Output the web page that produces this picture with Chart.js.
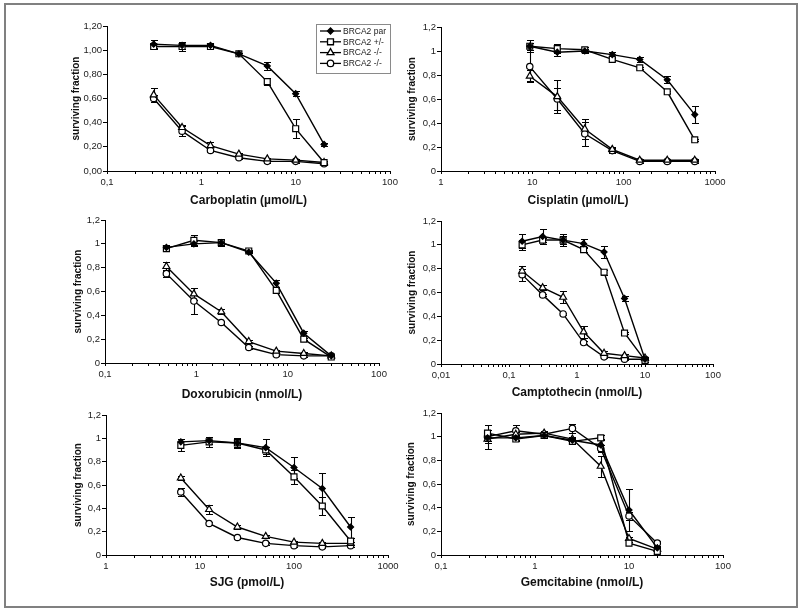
<!DOCTYPE html>
<html>
<head>
<meta charset="utf-8">
<title>BRCA2 surviving fraction</title>
<script src="https://cdn.jsdelivr.net/npm/chart.js@4.4.1/dist/chart.umd.min.js"></script>
<style>
  body { margin: 0; background: #fff; }
  #page { position: relative; width: 800px; height: 610px; background: #fff; overflow: hidden; }
  #frame { position: absolute; left: 4px; top: 3px; width: 794px; height: 605px; border: 2px solid #808080; box-sizing: border-box; }
  canvas { position: absolute; }
</style>
</head>
<body>
<div id="page">
  <div id="frame"></div>
</div>
<script>
// series names (legend)
const seriesLabels = ['BRCA2 par', 'BRCA2 +/-', 'BRCA2 -/-', 'BRCA2 -/-'];

// Carboplatin (µmol/L)
const carboConc = [0.3125, 0.625, 1.25, 2.5, 5, 10, 20];
const carboPar = [1.05, 1.04, 1.04, 0.97, 0.87, 0.64, 0.22];
const carboParErr = [0.03, 0.03, 0.01, 0.01, 0.03, 0.02, 0.01];
const carboHet = [1.03, 1.03, 1.03, 0.97, 0.74, 0.35, 0.07];
const carboHetErr = [0.02, 0.04, 0.02, 0.01, 0.03, 0.08, 0.01];
const carboKoA = [0.63, 0.36, 0.21, 0.14, 0.10, 0.09, 0.07];
const carboKoAErr = [0.06, 0.02, 0.03, 0.01, 0.01, 0.01, 0.01];
const carboKoB = [0.60, 0.33, 0.17, 0.11, 0.08, 0.08, 0.06];
const carboKoBErr = [0.03, 0.04, 0.01, 0.01, 0.01, 0.01, 0.01];

// Cisplatin (µmol/L)
const cisConc = [9.375, 18.75, 37.5, 75, 150, 300, 600];
const cisPar = [1.04, 0.99, 1.00, 0.97, 0.93, 0.76, 0.47];
const cisParErr = [0.05, 0.03, 0.02, 0.02, 0.02, 0.03, 0.07];
const cisHet = [1.04, 1.02, 1.01, 0.93, 0.86, 0.66, 0.26];
const cisHetErr = [0.03, 0.04, 0.02, 0.01, 0.01, 0.01, 0.01];
const cisKoA = [0.79, 0.62, 0.35, 0.18, 0.09, 0.09, 0.09];
const cisKoAErr = [0.05, 0.14, 0.08, 0.02, 0.01, 0.01, 0.01];
const cisKoB = [0.87, 0.60, 0.31, 0.17, 0.08, 0.08, 0.08];
const cisKoBErr = [0.12, 0.09, 0.10, 0.02, 0.01, 0.01, 0.01];

// Doxorubicin (nmol/L)
const doxoConc = [0.47, 0.94, 1.875, 3.75, 7.5, 15, 30];
const doxoPar = [0.97, 1.00, 1.01, 0.93, 0.67, 0.25, 0.06];
const doxoParErr = [0.02, 0.02, 0.02, 0.01, 0.03, 0.02, 0.01];
const doxoHet = [0.96, 1.03, 1.01, 0.94, 0.61, 0.20, 0.05];
const doxoHetErr = [0.02, 0.04, 0.03, 0.01, 0.02, 0.01, 0.01];
const doxoKoA = [0.81, 0.58, 0.43, 0.18, 0.10, 0.08, 0.06];
const doxoKoAErr = [0.04, 0.05, 0.02, 0.01, 0.01, 0.01, 0.01];
const doxoKoB = [0.75, 0.52, 0.34, 0.13, 0.07, 0.06, 0.06];
const doxoKoBErr = [0.03, 0.11, 0.01, 0.01, 0.01, 0.01, 0.01];

// Camptothecin (nmol/L)
const camptoConc = [0.156, 0.3125, 0.625, 1.25, 2.5, 5, 10];
const camptoPar = [1.03, 1.07, 1.04, 1.01, 0.94, 0.55, 0.04];
const camptoParErr = [0.06, 0.06, 0.05, 0.04, 0.05, 0.02, 0.01];
const camptoHet = [1.00, 1.04, 1.04, 0.96, 0.77, 0.26, 0.03];
const camptoHetErr = [0.04, 0.02, 0.03, 0.02, 0.02, 0.01, 0.01];
const camptoKoA = [0.78, 0.64, 0.56, 0.27, 0.09, 0.07, 0.05];
const camptoKoAErr = [0.04, 0.02, 0.05, 0.05, 0.02, 0.01, 0.01];
const camptoKoB = [0.75, 0.58, 0.42, 0.18, 0.06, 0.04, 0.04];
const camptoKoBErr = [0.05, 0.01, 0.01, 0.01, 0.01, 0.01, 0.01];

// SJG (pmol/L)
const sjgConc = [6.25, 12.5, 25, 50, 100, 200, 400];
const sjgPar = [0.97, 0.98, 0.96, 0.92, 0.75, 0.57, 0.24];
const sjgParErr = [0.02, 0.03, 0.03, 0.07, 0.09, 0.13, 0.09];
const sjgHet = [0.94, 0.97, 0.96, 0.90, 0.67, 0.42, 0.12];
const sjgHetErr = [0.05, 0.04, 0.04, 0.03, 0.06, 0.08, 0.03];
const sjgKoA = [0.66, 0.39, 0.24, 0.16, 0.11, 0.10, 0.10];
const sjgKoAErr = [0.02, 0.04, 0.02, 0.01, 0.01, 0.01, 0.01];
const sjgKoB = [0.54, 0.27, 0.15, 0.10, 0.08, 0.07, 0.08];
const sjgKoBErr = [0.03, 0.01, 0.01, 0.01, 0.01, 0.01, 0.01];

// Gemcitabine (nmol/L)
const gemConc = [0.3125, 0.625, 1.25, 2.5, 5, 10, 20];
const gemPar = [0.99, 0.99, 1.01, 0.97, 0.93, 0.38, 0.06];
const gemParErr = [0.03, 0.02, 0.02, 0.02, 0.05, 0.18, 0.01];
const gemHet = [1.03, 0.98, 1.01, 0.96, 0.99, 0.10, 0.03];
const gemHetErr = [0.03, 0.02, 0.02, 0.02, 0.02, 0.01, 0.01];
const gemKoA = [0.98, 1.02, 1.03, 0.98, 0.75, 0.14, 0.05];
const gemKoAErr = [0.03, 0.02, 0.02, 0.02, 0.09, 0.01, 0.01];
const gemKoB = [1.00, 1.05, 1.02, 1.07, 0.90, 0.33, 0.10];
const gemKoBErr = [0.10, 0.05, 0.02, 0.04, 0.03, 0.03, 0.02];

const FONT = "'Liberation Sans', Arial, Helvetica, sans-serif";

// marker look per series
const markerStyles = [
    { pointStyle: 'rectRot', radius: 3, fill: '#000' },
    { pointStyle: 'rect', radius: 4.2, fill: '#fff' },
    { pointStyle: 'triangle', radius: 4, fill: '#fff' },
    { pointStyle: 'circle', radius: 3.2, fill: '#fff' }
];

// panel placement: plot area edges in page pixels, axis title offsets
const panels = [
    { title: 'Carboplatin (µmol/L)', conc: carboConc, xMin: 0.1, xMax: 100,
      series: [[carboPar, carboParErr], [carboHet, carboHetErr], [carboKoA, carboKoAErr], [carboKoB, carboKoBErr]],
      L: 107, R: 390, T: 26, B: 171, yTitle: 31, xTitle: 30, decimals: 2, legend: true },
    { title: 'Cisplatin (µmol/L)', conc: cisConc, xMin: 1, xMax: 1000,
      series: [[cisPar, cisParErr], [cisHet, cisHetErr], [cisKoA, cisKoAErr], [cisKoB, cisKoBErr]],
      L: 441, R: 715, T: 27, B: 171, yTitle: 29, xTitle: 30, decimals: 0 },
    { title: 'Doxorubicin (nmol/L)', conc: doxoConc, xMin: 0.1, xMax: 100,
      series: [[doxoPar, doxoParErr], [doxoHet, doxoHetErr], [doxoKoA, doxoKoAErr], [doxoKoB, doxoKoBErr]],
      L: 105, R: 379, T: 220, B: 363, yTitle: 27, xTitle: 32, decimals: 0 },
    { title: 'Camptothecin (nmol/L)', conc: camptoConc, xMin: 0.01, xMax: 100,
      series: [[camptoPar, camptoParErr], [camptoHet, camptoHetErr], [camptoKoA, camptoKoAErr], [camptoKoB, camptoKoBErr]],
      L: 441, R: 713, T: 221, B: 364, yTitle: 29, xTitle: 29, decimals: 0 },
    { title: 'SJG (pmol/L)', conc: sjgConc, xMin: 1, xMax: 1000,
      series: [[sjgPar, sjgParErr], [sjgHet, sjgHetErr], [sjgKoA, sjgKoAErr], [sjgKoB, sjgKoBErr]],
      L: 106, R: 388, T: 415, B: 555, yTitle: 28, xTitle: 28, decimals: 0 },
    { title: 'Gemcitabine (nmol/L)', conc: gemConc, xMin: 0.1, xMax: 100,
      series: [[gemPar, gemParErr], [gemHet, gemHetErr], [gemKoA, gemKoAErr], [gemKoB, gemKoBErr]],
      L: 441, R: 723, T: 413, B: 555, yTitle: 30, xTitle: 28, decimals: 0 }
];

const Y_W = 50, X_H = 40, PAD_T = 8, PAD_R = 14;

// vertical error bars, drawn under the markers
const errorBars = {
    id: 'errorBars',
    beforeDatasetsDraw(chart) {
        const { ctx } = chart;
        const xs = chart.scales.x, ys = chart.scales.y;
        ctx.save();
        ctx.strokeStyle = '#000';
        ctx.lineWidth = 1.1;
        chart.data.datasets.forEach(ds => {
            ds.data.forEach((p, i) => {
                const e = ds.errors[i];
                if (!e) return;
                const x = Math.round(xs.getPixelForValue(p.x)) + 0.5;
                const y1 = Math.round(ys.getPixelForValue(p.y + e)) + 0.5;
                const y2 = Math.round(ys.getPixelForValue(p.y - e)) + 0.5;
                ctx.beginPath();
                ctx.moveTo(x, y1); ctx.lineTo(x, y2);
                ctx.moveTo(x - 3.5, y1); ctx.lineTo(x + 3.5, y1);
                ctx.moveTo(x - 3.5, y2); ctx.lineTo(x + 3.5, y2);
                ctx.stroke();
            });
        });
        ctx.restore();
    }
};

// boxed legend in the top right corner, line through marker like the original
const boxLegend = {
    id: 'boxLegend',
    afterDraw(chart, args, opts) {
        if (!opts.show) return;
        const { ctx, chartArea } = chart;
        const w = 74, h = 49;
        const left = Math.round(chartArea.right - w), top = Math.round(chartArea.top - 2);
        ctx.save();
        ctx.fillStyle = '#fff';
        ctx.fillRect(left, top, w, h);
        ctx.strokeStyle = '#8a8a8a';
        ctx.lineWidth = 1;
        ctx.strokeRect(left + 0.5, top + 0.5, w, h);
        chart.data.datasets.forEach((ds, i) => {
            const y = top + 7 + i * 10.8;
            ctx.strokeStyle = '#000';
            ctx.lineWidth = 1.3;
            ctx.beginPath();
            ctx.moveTo(left + 4, y);
            ctx.lineTo(left + 25, y);
            ctx.stroke();
            ctx.fillStyle = ds.pointBackgroundColor;
            Chart.helpers.drawPoint(ctx, {
                pointStyle: ds.pointStyle, radius: ds.pointRadius, borderWidth: 1.1, rotation: 0
            }, left + 14.5, y);
            ctx.fillStyle = '#222';
            ctx.font = '8.5px ' + FONT;
            ctx.textBaseline = 'middle';
            ctx.textAlign = 'left';
            ctx.fillText(ds.label, left + 27, y + 0.5);
        });
        ctx.restore();
    }
};

function isDecade(v) {
    const lg = Math.log10(v);
    return Math.abs(lg - Math.round(lg)) < 1e-6;
}

function buildPanel(p) {
    const canvas = document.createElement('canvas');
    const left = p.L - Y_W, top = p.T - PAD_T;
    const width = p.R + PAD_R - left, height = p.B + X_H - top;
    canvas.width = width;
    canvas.height = height;
    canvas.style.left = left + 'px';
    canvas.style.top = top + 'px';
    canvas.style.width = width + 'px';
    canvas.style.height = height + 'px';
    document.getElementById('page').appendChild(canvas);

    const datasets = p.series.map(([vals, errs], i) => ({
        label: seriesLabels[i],
        data: p.conc.map((c, j) => ({ x: c, y: vals[j] })),
        errors: errs,
        borderColor: '#000',
        borderWidth: 1.4,
        tension: 0,
        fill: false,
        pointStyle: markerStyles[i].pointStyle,
        pointRadius: markerStyles[i].radius,
        pointBackgroundColor: markerStyles[i].fill,
        pointBorderColor: '#000',
        pointBorderWidth: 1.2
    }));

    new Chart(canvas, {
        type: 'line',
        data: { datasets },
        plugins: [errorBars, boxLegend],
        options: {
            responsive: false,
            animation: false,
            events: [],
            layout: { padding: { top: PAD_T, right: PAD_R, left: 0, bottom: 0 } },
            plugins: {
                legend: { display: false },
                tooltip: { enabled: false },
                boxLegend: { show: !!p.legend }
            },
            scales: {
                x: {
                    type: 'logarithmic',
                    min: p.xMin,
                    max: p.xMax,
                    afterFit(scale) { scale.height = X_H; },
                    grid: { drawOnChartArea: false, drawTicks: true, tickLength: 3, color: '#000' },
                    border: { display: true, color: '#000', width: 1 },
                    ticks: {
                        autoSkip: false,
                        maxRotation: 0,
                        padding: 3,
                        color: '#222',
                        font: { family: FONT, size: 9.5 },
                        callback(value) {
                            if (!isDecade(value)) return '';
                            return String(Math.pow(10, Math.round(Math.log10(value)))).replace('.', ',');
                        }
                    },
                    title: {
                        display: true,
                        text: p.title,
                        color: '#111',
                        font: { family: FONT, size: 12, weight: 'bold' },
                        padding: { top: 0, bottom: X_H - 7.2 - p.xTitle }
                    }
                },
                y: {
                    type: 'linear',
                    min: 0,
                    max: 1.2,
                    afterFit(scale) { scale.width = Y_W; },
                    grid: { drawOnChartArea: false, drawTicks: true, tickLength: 4, color: '#000' },
                    border: { display: true, color: '#000', width: 1 },
                    ticks: {
                        stepSize: 0.2,
                        padding: 1,
                        color: '#222',
                        font: { family: FONT, size: 9.5 },
                        callback(value) {
                            const s = p.decimals ? value.toFixed(p.decimals) : String(Math.round(value * 10) / 10);
                            return s.replace('.', ',');
                        }
                    },
                    title: {
                        display: true,
                        text: 'surviving fraction',
                        color: '#111',
                        font: { family: FONT, size: 10, weight: 'bold' },
                        padding: { top: Y_W - p.yTitle - 6, bottom: 0 }
                    }
                }
            }
        }
    });
}

panels.forEach(buildPanel);
</script>
</body>
</html>
